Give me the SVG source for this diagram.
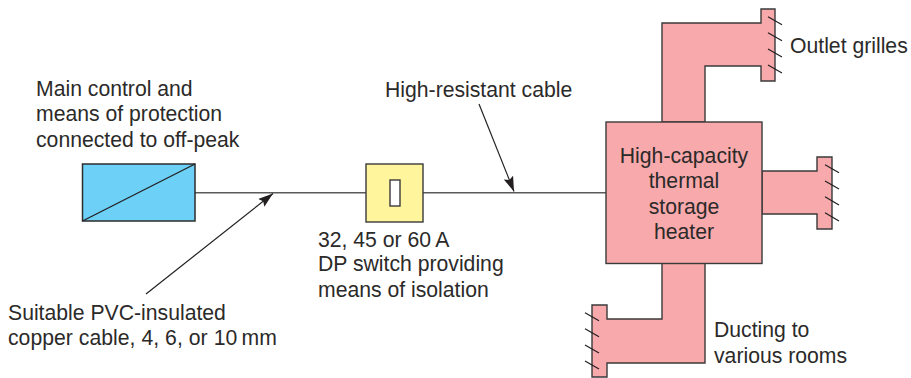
<svg xmlns="http://www.w3.org/2000/svg" width="911" height="378" viewBox="0 0 911 378">
<style>
text{font-family:"Liberation Sans",Arial,sans-serif;font-size:21.200px;fill:#2b2a29}
.duct{fill:#f8a9ac;stroke:#3a3a3a;stroke-width:1.4}
.hatch{stroke:#231f20;stroke-width:1.2;fill:none}
.wire{stroke:#5a5a5a;stroke-width:1.6;fill:none}
.lead{stroke:#231f20;stroke-width:1.2;fill:none}
.mid{text-anchor:middle}
</style>
<defs>
<marker id="arrow" markerUnits="userSpaceOnUse" markerWidth="16" markerHeight="12" refX="15" refY="5" orient="auto" viewBox="0 0 16 10">
<path d="M0 0L15 5L0 10L2.5 5Z" fill="#231f20"/>
</marker>
</defs>
<rect width="911" height="378" fill="#fff"/>
<g id="connectors">
<path class="wire" d="M195 192.700H366"/>
<path class="wire" d="M423 192.700H606"/>
<path class="lead" d="M146 294L273 193.500" marker-end="url(#arrow)"/>
<path class="lead" d="M479 104L514 191.500" marker-end="url(#arrow)"/>
</g>
<g id="main-control">
<rect x="82.500" y="164" width="112.500" height="57" fill="#6cd0f7" stroke="#2d2d2d" stroke-width="1.500"/>
<path d="M82.500 221L195 164" stroke="#231f20" stroke-width="1.300" fill="none"/>
<text x="36" y="96">Main control and</text>
<text x="36" y="121">means of protection</text>
<text x="36" y="147">connected to off-peak</text>
</g>
<g id="dp-switch">
<rect x="366" y="164" width="57" height="58" fill="#fff59d" stroke="#3a3a3a" stroke-width="1.400"/>
<rect x="390" y="180" width="10" height="26" fill="#fff" stroke="#3a3a3a" stroke-width="1.400"/>
<text x="318" y="246.500">32, 45 or 60&#8201;A</text>
<text x="318" y="271">DP switch providing</text>
<text x="318" y="296.500">means of isolation</text>
</g>
<g id="heater">
<path class="duct" d="M662 122V23H761V9H775V81H761V66H705V122Z"/>
<path class="duct" d="M762 171H817V157H832V229H817V214H762Z"/>
<path class="duct" d="M662 263V319H607V305H592V377H607V363H705V263Z"/>
<rect class="duct" x="606" y="122" width="156" height="141.500"/>
<text class="mid" x="684" y="163">High-capacity</text>
<text class="mid" x="684" y="188">thermal</text>
<text class="mid" x="684" y="214">storage</text>
<text class="mid" x="684" y="239">heater</text>
</g>
<g id="outlet-grilles">
<path class="hatch" d="M768 16.700L782 24.700M768 32.700L782 40.700M768 49L782 57M768 65L782 73"/>
<path class="hatch" d="M825 164.700L839 172.700M825 181L839 189M825 196.700L839 205M825 212.700L839 221"/>
<path class="hatch" d="M585 312.700L599 320.700M585 328.700L599 336.700M585 345L599 353M585 361L599 369"/>
<text x="790" y="53">Outlet grilles</text>
</g>
<g id="labels">
<text x="385" y="96.500">High-resistant cable</text>
<text x="8" y="319.500">Suitable PVC-insulated</text>
<text x="8" y="345" word-spacing="0.150">copper cable, 4, 6, or 10&#8201;mm</text>
<text x="714" y="337">Ducting to</text>
<text x="714" y="363">various rooms</text>
</g>
</svg>
